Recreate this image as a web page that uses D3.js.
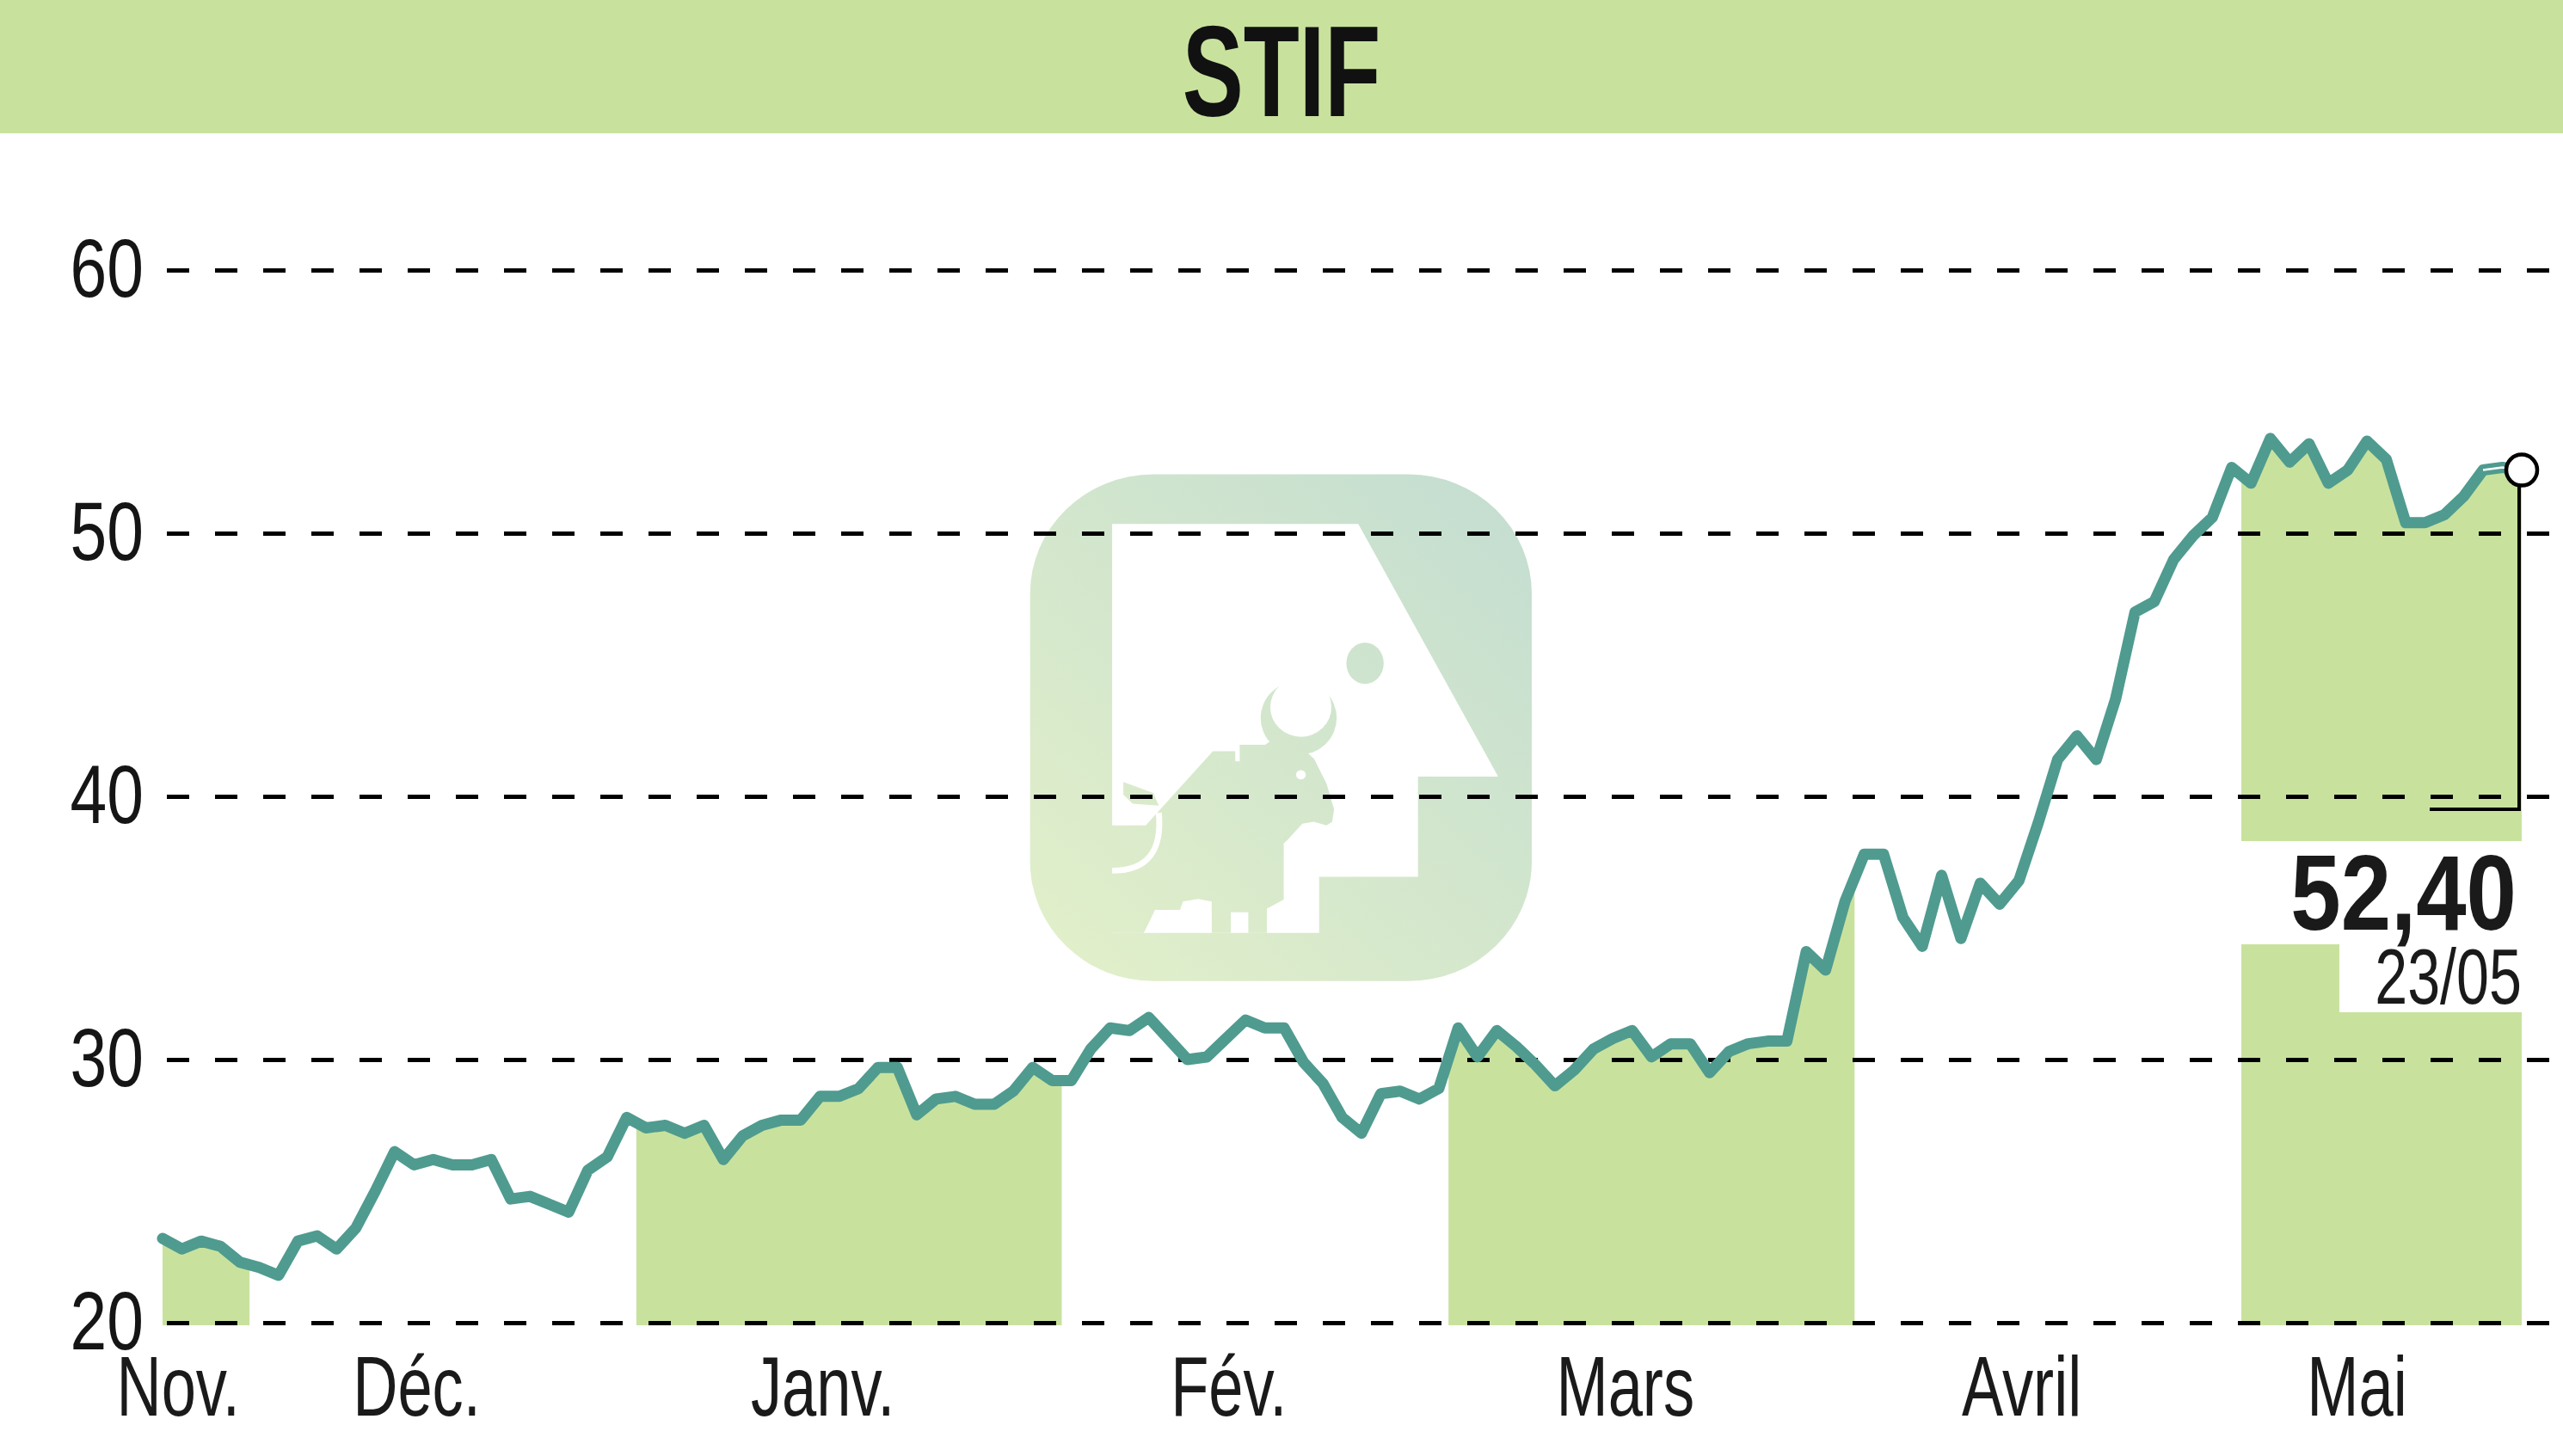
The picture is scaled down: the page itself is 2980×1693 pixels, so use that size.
<!DOCTYPE html>
<html><head><meta charset="utf-8">
<script src="https://cdn.jsdelivr.net/npm/d3@7"></script>
<style>html,body{margin:0;padding:0;background:#fff;} svg{display:block;}</style>
</head><body>
<svg id="chart" width="2980" height="1693"></svg>
<script>
// ---------- data ----------
const title = "STIF";
const monthLabels = ["Nov.", "Déc.", "Janv.", "Fév.", "Mars", "Avril", "Mai"];
const shadedMonths = [true, false, true, false, true, false, true];
const novValues = [23.2, 22.8, 23.1, 22.9, 22.3];
const decValues = [22.1, 21.8, 23.1, 23.3, 22.8, 23.6, 25.0, 26.5, 26.0, 26.2, 26.0, 26.0, 26.2, 24.7, 24.8, 24.5, 24.2, 25.8, 26.3, 27.8];
const janValues = [27.4, 27.5, 27.2, 27.5, 26.2, 27.1, 27.5, 27.7, 27.7, 28.6, 28.6, 28.9, 29.7, 29.7, 27.9, 28.5, 28.6, 28.3, 28.3, 28.8, 29.7, 29.2];
const febValues = [29.2, 30.4, 31.2, 31.1, 31.6, 30.8, 30.0, 30.1, 30.8, 31.5, 31.2, 31.2, 29.9, 29.1, 27.8, 27.2, 28.7, 28.8, 28.5, 28.9];
const marValues = [31.2, 30.1, 31.1, 30.5, 29.8, 29.0, 29.6, 30.4, 30.8, 31.1, 30.1, 30.6, 30.6, 29.5, 30.3, 30.6, 30.7, 30.7, 34.1, 33.4, 36.0];
const aprValues = [37.8, 37.8, 35.4, 34.3, 37.0, 34.6, 36.7, 35.9, 36.8, 39.0, 41.4, 42.3, 41.4, 43.7, 47.0, 47.4, 49.0, 49.9, 50.6, 52.5];
const mayValues = [51.9, 53.6, 52.7, 53.4, 51.9, 52.4, 53.5, 52.8, 50.4, 50.4, 50.7, 51.4, 52.4, 52.5, 52.4];
const yTicks = [20, 30, 40, 50, 60];
const lastValueLabel = "52,40";
const lastDateLabel = "23/05";

// ---------- build ----------
const monthSeries = [novValues, decValues, janValues, febValues, marValues, aprValues, mayValues];
const data = [];
const months = [];
monthSeries.forEach((vals, m) => {
  const s = data.length;
  vals.forEach(v => data.push({ i: data.length, v: v, m: m }));
  months.push({ label: monthLabels[m], shaded: shadedMonths[m], s: s, e: data.length - 1 });
});
const n = data.length;

const W = 2980, H = 1693;
const svg = d3.select("#chart");
const FONT = "'Liberation Sans', Arial, sans-serif";
const GREEN = "#c8e29e";
const TEAL = "#4f9b8f";

const x = d3.scaleLinear().domain([0, n - 1]).range([189, 2932]);
const y = d3.scaleLinear().domain([20, 60]).range([1538, 314]);

function condense(sel, f) {
  sel.each(function () {
    const l = this.getComputedTextLength();
    d3.select(this).attr("textLength", l * f).attr("lengthAdjust", "spacingAndGlyphs");
  });
}

// month band extents
months.forEach((mo, k) => {
  mo.x0 = k === 0 ? x(mo.s) - 4 : (x(mo.s - 1) + x(mo.s)) / 2;
  mo.x1 = k === months.length - 1 ? x(mo.e) + 4 : (x(mo.e) + x(mo.e + 1)) / 2;
});

// ---------- header ----------
svg.append("rect").attr("x", 0).attr("y", 0).attr("width", W).attr("height", 155).attr("fill", GREEN);
svg.append("text").attr("x", W / 2).attr("y", 135).attr("text-anchor", "middle")
  .attr("font-family", FONT).attr("font-weight", "bold").attr("font-size", 150).attr("fill", "#111")
  .text(title).call(condense, 0.71);

// ---------- watermark ----------
const defs = svg.append("defs");
const grad = defs.append("linearGradient").attr("id", "wmGrad").attr("gradientUnits", "userSpaceOnUse")
  .attr("x1", 110).attr("y1", 1475).attr("x2", 1455).attr("y2", 75);
grad.append("stop").attr("offset", 0).attr("stop-color", "#e3f0c9");
grad.append("stop").attr("offset", 1).attr("stop-color", "#c3ddd1");

const wm = svg.append("g").attr("transform", "translate(1150,520) scale(" + (1 / 2.306) + "," + (1 / 2.376) + ")");
wm.append("rect").attr("x", 110).attr("y", 75).attr("width", 1345).attr("height", 1400)
  .attr("rx", 330).attr("ry", 330).attr("fill", "url(#wmGrad)");
wm.append("path").attr("fill", "#fff")
  .attr("d", "M330,212 L990,212 L1365,910 L1150,910 L1150,1187 L885,1187 L885,1342 L330,1342 Z");
wm.append("path").attr("fill", "url(#wmGrad)")
  .attr("d", "M455,1005 L600,840 L660,840 L660,868 L672,868 L672,822 L740,822 L765,805 L850,840 L872,862 L905,930 L925,1000 L920,1035 L905,1045 L870,1035 L840,1040 L800,1085 L790,1095 L790,1250 L745,1275 L745,1342 L695,1342 L695,1285 L648,1285 L648,1342 L597,1342 L597,1255 L560,1248 L520,1255 L512,1278 L445,1278 L415,1342 L320,1342 L320,1045 L420,1045 Z");
wm.append("circle").attr("cx", 830).attr("cy", 748).attr("r", 102).attr("fill", "url(#wmGrad)");
wm.append("circle").attr("cx", 836).attr("cy", 718).attr("r", 82).attr("fill", "#fff");
wm.append("ellipse").attr("cx", 1008).attr("cy", 597).attr("rx", 50).attr("ry", 57).attr("fill", "url(#wmGrad)");
wm.append("circle").attr("cx", 836).attr("cy", 905).attr("r", 13).attr("fill", "#fff");
wm.append("path").attr("fill", "none").attr("stroke", "#fff").attr("stroke-width", 16)
  .attr("d", "M330,1170 Q470,1170 455,1010");
wm.append("path").attr("fill", "url(#wmGrad)")
  .attr("d", "M360,925 L440,955 L455,990 L385,985 L360,960 Z");

// ---------- shaded month areas ----------
const clip = defs.append("clipPath").attr("id", "monthClip");
months.filter(mo => mo.shaded).forEach(mo => {
  clip.append("rect").attr("x", mo.x0).attr("y", 0).attr("width", mo.x1 - mo.x0).attr("height", y(20) + 3);
});
const area = d3.area().x(d => x(d.i)).y0(y(20) + 3).y1(d => y(d.v));
svg.append("path").datum(data).attr("d", area).attr("fill", GREEN).attr("clip-path", "url(#monthClip)");

// white cut-outs behind the last value labels
const lastMonth = months[months.length - 1];
const xLast = x(n - 1);
svg.append("rect").attr("x", lastMonth.x0).attr("y", y(40) + 52)
  .attr("width", lastMonth.x1 - lastMonth.x0 + 1).attr("height", 120).attr("fill", "#fff");
svg.append("rect").attr("x", xLast - 212).attr("y", y(40) + 171)
  .attr("width", 214).attr("height", 80).attr("fill", "#fff");

// ---------- grid / y axis ----------
const yAxis = d3.axisLeft(y).tickValues(yTicks).tickSize(-(W - 194)).tickPadding(27).tickFormat(d3.format("d"));
const gy = svg.append("g").attr("transform", "translate(194,0)").call(yAxis);
gy.select(".domain").remove();
gy.selectAll(".tick line").attr("stroke", "#000").attr("stroke-width", 5).attr("stroke-dasharray", "26 30");
gy.selectAll(".tick text").attr("font-family", FONT).attr("font-size", 96).attr("fill", "#151515")
  .call(condense, 0.8);

// ---------- x axis (month labels) ----------
const labelOffset = -31 / (x(1) - x(0));
const xAxis = d3.axisBottom(x)
  .tickValues(months.map(mo => x.invert((mo.x0 + mo.x1) / 2) + labelOffset))
  .tickFormat((d, k) => months[k].label).tickSize(0).tickPadding(38);
const gx = svg.append("g").attr("transform", "translate(0," + y(20) + ")").call(xAxis);
gx.select(".domain").remove();
gx.selectAll(".tick text").attr("font-family", FONT).attr("font-size", 99).attr("fill", "#1a1a1a")
  .call(condense, 0.73);

// ---------- price line ----------
const line = d3.line().x(d => x(d.i)).y(d => y(d.v));
svg.append("path").datum(data).attr("d", line).attr("fill", "none").attr("stroke", TEAL)
  .attr("stroke-width", 13).attr("stroke-linejoin", "round").attr("stroke-linecap", "round");
svg.append("path").datum(data.slice(n - 3)).attr("d", line).attr("fill", "none").attr("stroke", "#fff")
  .attr("stroke-width", 2.5);

// ---------- last value marker & labels ----------
const yLastPt = y(data[n - 1].v);
svg.append("path").attr("fill", "none").attr("stroke", "#000").attr("stroke-width", 4)
  .attr("d", "M" + (xLast - 3) + "," + yLastPt + " V" + (y(40) + 15) + " H" + (xLast - 107));
svg.append("circle").attr("cx", xLast).attr("cy", yLastPt).attr("r", 18)
  .attr("fill", "#fff").attr("stroke", "#000").attr("stroke-width", 4.5);

svg.append("text").attr("x", xLast - 6).attr("y", y(40) + 155).attr("text-anchor", "end")
  .attr("font-family", FONT).attr("font-weight", "bold").attr("font-size", 125).attr("fill", "#1a1a1a")
  .text(lastValueLabel).call(condense, 0.84);
svg.append("text").attr("x", xLast).attr("y", y(40) + 241).attr("text-anchor", "end")
  .attr("font-family", FONT).attr("font-size", 91).attr("fill", "#1a1a1a")
  .text(lastDateLabel).call(condense, 0.75);
</script>
</body></html>
